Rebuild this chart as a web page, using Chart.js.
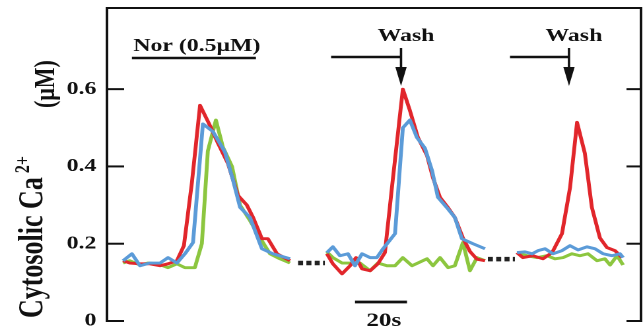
<!DOCTYPE html>
<html><head><meta charset="utf-8">
<script src="https://cdn.jsdelivr.net/npm/chart.js@4/dist/chart.umd.min.js"></script>
<style>
html,body{margin:0;padding:0;background:#fff;overflow:hidden;width:643px;height:333px}
#wrap{position:absolute;left:0;top:0;width:487px;height:333px;transform:scaleX(1.3203);transform-origin:0 0}
canvas{display:block}
</style></head><body>
<div id="wrap"><canvas id="c" width="487" height="333"></canvas></div>
<script>
// time in seconds, values in µM
const yTicks = [0, 0.2, 0.4, 0.6];
const yTickLabels = ['0', '0.2', '0.4', '0.6'];

const red1T = [6.2,8.8,12.7,16.5,20.4,23.5,26.9,29.6,32.7,35.8,39.6,42.7,46.5,50.4,53.8,56.2,59.6,61.9,65.4,70.4];
const red1V = [.156,.15,.148,.148,.143,.148,.156,.195,.36,.558,.506,.46,.408,.325,.30,.268,.213,.213,.174,.156];
const blue1T = [6.2,9.6,12.7,16.5,20.4,23.5,26.9,30,33.1,36.9,40.8,45.4,48.5,51.2,55,59.6,63.8,70.4];
const blue1V = [.156,.174,.143,.15,.15,.164,.15,.174,.203,.51,.49,.437,.364,.294,.268,.187,.174,.161];
const green1T = [6.2,8.8,12.7,15.8,19.6,23.5,26.9,30,33.8,36.5,38.8,41.9,44.6,48.1,51.2,55,58.8,62.7,66.5,70.4];
const green1V = [.15,.156,.145,.15,.148,.138,.148,.138,.138,.2,.44,.52,.45,.40,.30,.26,.216,.174,.161,.15];

const red2T = [84.6,86.9,90.4,93.5,95.8,98.1,101.2,104.2,106.9,110,113.8,116.5,119.6,123.1,125.4,128.1,131.2,133.8,136.9,139.6,142.3,145.4];
const red2V = [.174,.148,.122,.143,.164,.135,.13,.148,.177,.37,.60,.545,.475,.428,.37,.32,.293,.268,.215,.18,.16,.156];
const blue2T = [84.6,86.9,89.6,92.7,95.4,98.1,101.2,103.8,106.2,110.8,113.8,116.5,119.2,122.3,125,127.3,130.8,133.8,136.5,140.8,145.4];
const blue2V = [.177,.192,.169,.174,.143,.174,.164,.164,.187,.226,.50,.52,.475,.447,.39,.32,.293,.268,.213,.2,.187];
const green2T = [84.6,86.9,90.4,93.5,97.3,101.2,104.2,107.7,110.8,113.8,117.3,119.6,123.1,125.4,128.1,131.2,133.8,136.9,139.6,142.3,145.4];
const green2V = [.179,.164,.15,.15,.15,.13,.15,.143,.143,.164,.143,.15,.161,.143,.164,.138,.143,.203,.13,.164,.156];

const red3T = [157.7,160,163.8,167.7,171.2,175,178.1,180.8,183.8,186.5,189.6,192.3,195.4,198.1];
const red3V = [.177,.164,.169,.161,.177,.226,.345,.514,.434,.294,.215,.19,.182,.164];
const blue3T = [157.7,160.8,163.5,165.8,168.5,171.5,175,178.1,181.2,184.6,187.7,190.8,194.2,197.3,198.5];
const blue3V = [.177,.179,.174,.182,.187,.174,.182,.195,.184,.192,.187,.174,.169,.174,.164];
const green3T = [157.7,161.5,165.4,169.2,172.3,175.4,178.8,181.9,185,188.5,191.5,193.5,196.2,198.5];
const green3V = [.177,.169,.164,.169,.161,.164,.174,.169,.174,.156,.161,.145,.169,.145];

const gap1T = [73.5, 83.8], gap1V = [0.15, 0.15];
const gap2T = [146.5, 156.9], gap2V = [0.16, 0.16];

// annotation times (s)
const norStart = 9.6, norEnd = 57.3, norText = 34.6;
const wash1Start = 86.2, wash1At = 113.1, wash1Text = 115;
const wash2Start = 155, wash2At = 177.7, wash2Text = 179.6;
const barStart = 95.4, barEnd = 115.4, barText = 106.5;

const RED = '#e1262b', BLUE = '#5b9bd8', GREEN = '#8cc63f';
const pts = (T, V) => T.map((t, i) => ({x: t, y: V[i]}));
const trace = (T, V, c) => ({data: pts(T, V), borderColor: c, borderWidth: 2.9, fill: false, pointRadius: 0, borderJoinStyle: 'round'});
const gap = (T, V) => ({data: pts(T, V), borderColor: '#222', borderWidth: 4.5, borderDash: [3.8, 2.5], borderCapStyle: 'butt', pointRadius: 0});

const SERIF = '"Liberation Serif", "Times New Roman", serif';

const framePlugin = {
  id: 'frame',
  afterDraw(chart) {
    const {ctx, chartArea: a, scales: {x, y}} = chart;
    ctx.save();
    ctx.strokeStyle = '#111'; ctx.fillStyle = '#111';
    const line = (x1, y1, x2, y2, w) => { ctx.lineWidth = w; ctx.beginPath(); ctx.moveTo(x1, y1); ctx.lineTo(x2, y2); ctx.stroke(); };
    // frame
    ctx.lineWidth = 2; ctx.lineCap = 'square';
    ctx.beginPath();
    ctx.moveTo(a.left, a.bottom); ctx.lineTo(a.left, a.top); ctx.lineTo(a.right, a.top); ctx.lineTo(a.right, a.bottom);
    ctx.stroke();
    ctx.lineCap = 'butt';
    yTicks.forEach(v => {
      const py = y.getPixelForValue(v);
      line(a.left, py, a.left + 13, py, 2);
      line(a.right - 11, py, a.right, py, 2);
    });
    // Nor annotation
    ctx.font = 'bold 18px ' + SERIF; ctx.textAlign = 'center'; ctx.textBaseline = 'alphabetic';
    ctx.fillText('Nor (0.5μM)', x.getPixelForValue(norText), 51);
    line(x.getPixelForValue(norStart), 58, x.getPixelForValue(norEnd), 58, 2.5);
    // Wash annotations
    [[wash1Start, wash1At, wash1Text], [wash2Start, wash2At, wash2Text]].forEach(([s, at, tx]) => {
      ctx.fillText('Wash', x.getPixelForValue(tx), 41);
      const xa = x.getPixelForValue(at);
      line(x.getPixelForValue(s), 57, xa, 57, 2.5);
      line(xa, 48, xa, 70, 1.8);
      ctx.beginPath(); ctx.moveTo(xa - 4.3, 67); ctx.lineTo(xa + 4.3, 67); ctx.lineTo(xa, 86); ctx.closePath(); ctx.fill();
    });
    // scale bar
    line(x.getPixelForValue(barStart), 302, x.getPixelForValue(barEnd), 302, 2.8);
    ctx.font = 'bold 19px ' + SERIF;
    ctx.fillText('20s', x.getPixelForValue(barText), 326);
    // y title
    ctx.save();
    ctx.translate(32, 318); ctx.rotate(-Math.PI / 2);
    ctx.textAlign = 'left';
    ctx.font = 'bold 26px ' + SERIF;
    ctx.fillText('Cytosolic Ca', 0, 0);
    const w = ctx.measureText('Cytosolic Ca').width;
    ctx.font = 'bold 16px ' + SERIF;
    ctx.fillText('2+', w + 4, -10);
    ctx.restore();
    ctx.save();
    ctx.translate(41, 108); ctx.rotate(-Math.PI / 2);
    ctx.textAlign = 'left';
    ctx.font = 'bold 22px ' + SERIF;
    ctx.fillText('(μM)', 0, 0);
    ctx.restore();
    ctx.restore();
  }
};

new Chart(document.getElementById('c'), {
  type: 'line',
  data: {
    datasets: [
      trace(blue1T, blue1V, BLUE), trace(red1T, red1V, RED), trace(green1T, green1V, GREEN),
      trace(blue2T, blue2V, BLUE), trace(red2T, red2V, RED), trace(green2T, green2V, GREEN),
      trace(blue3T, blue3V, BLUE), trace(red3T, red3V, RED), trace(green3T, green3V, GREEN),
      gap(gap1T, gap1V), gap(gap2T, gap2V)
    ]
  },
  options: {
    responsive: false, animation: false, devicePixelRatio: 2,
    layout: {padding: {left: 0, right: 1.5, top: 8, bottom: 12}},
    plugins: {legend: {display: false}, tooltip: {enabled: false}},
    elements: {point: {radius: 0}, line: {tension: 0}},
    scales: {
      x: {type: 'linear', min: 0, max: 205.4, display: false},
      y: {
        min: 0, max: 0.81,
        afterFit(s) { s.width = 81; s.paddingTop = 0; s.paddingBottom = 0; },
        afterBuildTicks(s) { s.ticks = yTicks.map(v => ({value: v})); },
        grid: {display: false, drawTicks: false},
        border: {display: false},
        ticks: {padding: 8, color: '#111', font: {family: SERIF, size: 18, weight: 'bold'},
          callback: (v, i) => yTickLabels[i]}
      }
    }
  },
  plugins: [framePlugin]
});
</script>
</body></html>
